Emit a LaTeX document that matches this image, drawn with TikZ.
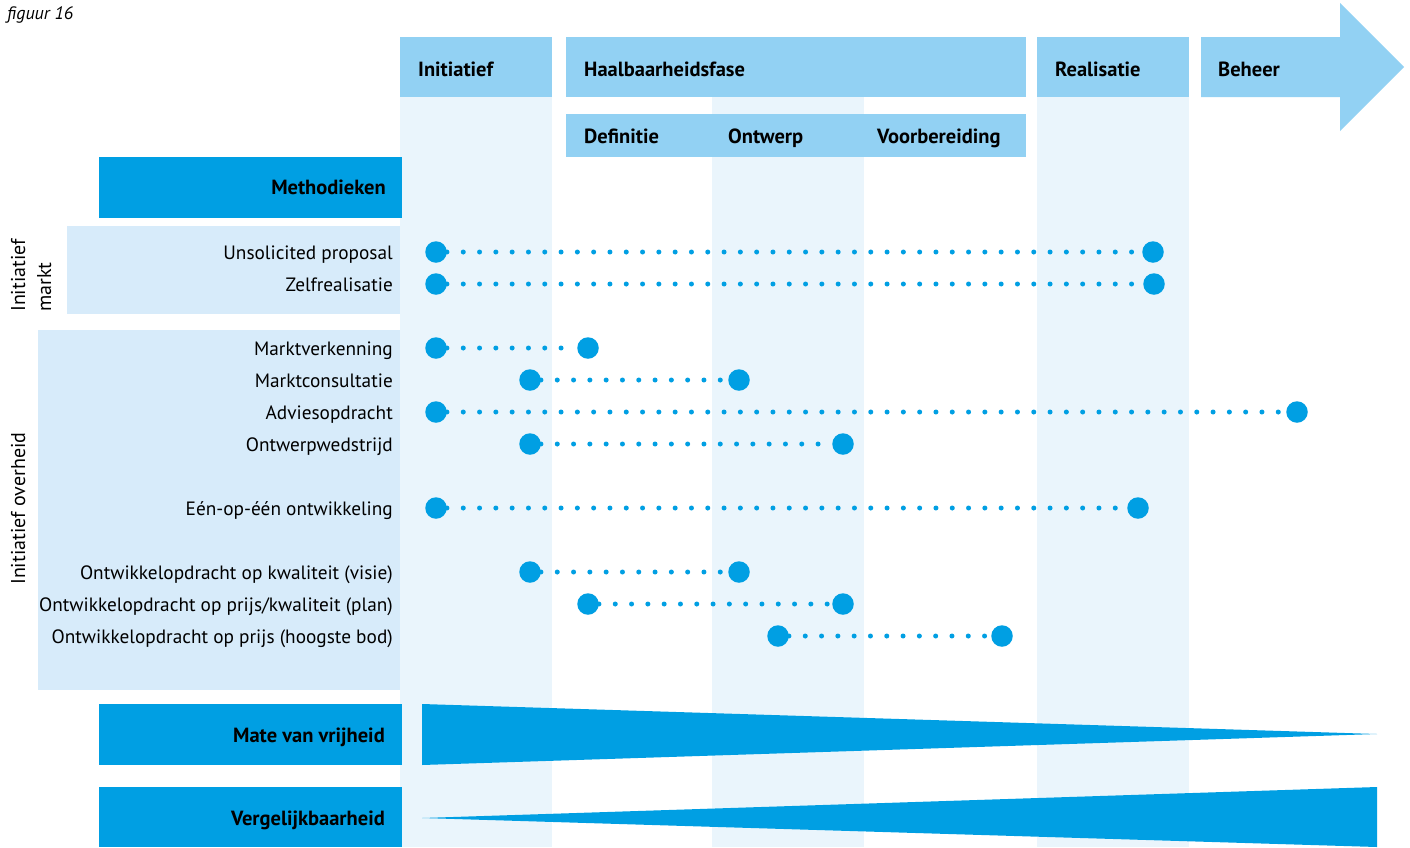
\documentclass[tikz,border=0pt]{standalone}
\usepackage{fontspec}
\setmainfont{PT Sans}
\definecolor{dblue}{HTML}{009FE3}
\definecolor{hblue}{HTML}{92D1F3}
\definecolor{colbg}{HTML}{EAF5FC}
\definecolor{bandbg}{HTML}{D7EBFA}
\tikzset{
  hdrbox/.style={fill=hblue, inner sep=0pt, anchor=north west, minimum height=60pt},
  hdrtxt/.style={anchor=base west, inner sep=0pt, font=\bfseries\fontsize{20.5}{24}\selectfont},
  darkbox/.style={fill=dblue, inner sep=0pt, anchor=north west, minimum height=61pt, minimum width=303pt},
  darktxt/.style={anchor=base east, inner sep=0pt, font=\bfseries\fontsize{20.5}{24}\selectfont},
  lbl/.style={anchor=base east, inner sep=0pt, font=\fontsize{19.3}{24}\selectfont},
  rlbl/.style={anchor=base west, rotate=90, inner sep=0pt, font=\fontsize{20}{24}\selectfont},
  bigdot/.style={circle, fill=dblue, minimum size=21.5pt, inner sep=0pt},
  dotline/.style={draw=dblue, line width=5pt, line cap=round, dash pattern=on 0pt off 16.3pt},
}
\begin{document}
\begin{tikzpicture}[x=1pt,y=-1pt]
\useasboundingbox (0,0) rectangle (1410,847);
\fill[white] (0,0) rectangle (1410,847);
% light columns
\fill[colbg] (400,97) rectangle (552,847);
\fill[colbg] (712,97) rectangle (864,847);
\fill[colbg] (1037,97) rectangle (1189,847);
% bands
\fill[bandbg] (67,226) rectangle (400,314);
\fill[bandbg] (38,330) rectangle (400,690);
% figure label
\node[anchor=base west, inner sep=0pt, font=\itshape\fontsize{18}{20}\selectfont] (fig) at (7,19) {figuur 16};
% headers
\node[hdrbox, minimum width=152pt] (hinit) at (400,37) {};
\node[hdrbox, minimum width=460pt] (hhaal) at (566,37) {};
\node[hdrbox, minimum width=152pt] (hreal) at (1037,37) {};
\fill[hblue] (1201,37) -- (1340,37) -- (1340,3) -- (1404,67) -- (1340,131) -- (1340,97) -- (1201,97) -- cycle;
\node[hdrtxt] (tinit) at (418,76) {Initiatief};
\node[hdrtxt] (thaal) at (584,76) {Haalbaarheidsfase};
\node[hdrtxt] (treal) at (1055,76) {Realisatie};
\node[hdrtxt] (tbeh) at (1218,76) {Beheer};
% sub headers
\node[fill=hblue, inner sep=0pt, anchor=north west, minimum width=460pt, minimum height=43pt] (hsub) at (566,114) {};
\node[hdrtxt] (sdef) at (584,143) {Definitie};
\node[hdrtxt] (sontw) at (728,143) {Ontwerp};
\node[hdrtxt] (svoor) at (877,143) {Voorbereiding};
% dark boxes
\node[darkbox] (meth) at (99,157) {};
\node[darkbox] (mate) at (99,704) {};
\node[darkbox, minimum height=60pt] (verg) at (99,787) {};
\node[darktxt] (tmeth) at (386,194) {Methodieken};
\node[darktxt] (tmate) at (385,742) {Mate van vrijheid};
\node[darktxt] (tverg) at (385,825) {Vergelijkbaarheid};
% wedges
\fill[dblue] (422,704) -- (1377,734) -- (422,765) -- cycle;
\fill[dblue] (422,818) -- (1377,787) -- (1377,847) -- cycle;
% rotated labels
\node[rlbl] (rm1) at (25,312) {Initiatief};
\node[rlbl] (rm2) at (51,312) {markt};
\node[rlbl] (ro1) at (25,585) {Initiatief overheid};
% row labels
\node[lbl] (l1) at (393,259) {Unsolicited proposal};
\node[lbl] (l2) at (393,291) {Zelfrealisatie};
\node[lbl] (l3) at (393,355) {Marktverkenning};
\node[lbl] (l4) at (393,387) {Marktconsultatie};
\node[lbl] (l5) at (393,419) {Adviesopdracht};
\node[lbl] (l6) at (393,451) {Ontwerpwedstrijd};
\node[lbl] (l7) at (393,515) {Eén-op-één ontwikkeling};
\node[lbl] (l8) at (393,579) {Ontwikkelopdracht op kwaliteit (visie)};
\node[lbl] (l9) at (393,611) {Ontwikkelopdracht op prijs/kwaliteit (plan)};
\node[lbl] (l10) at (393,643) {Ontwikkelopdracht op prijs (hoogste bod)};
% dots
\foreach \n/\y/\xa/\xb in {1/252/436/1153, 2/284/436/1154, 3/348/436/588, 4/380/530/739,
  5/412/436/1297, 6/444/530/843, 7/508/436/1138, 8/572/530/739, 9/604/588/843, 10/636/778/1002}{
  \node[bigdot] (s\n) at (\xa,\y) {};
  \node[bigdot] (e\n) at (\xb,\y) {};
  \draw[dotline] (s\n) -- (e\n);
}
\end{tikzpicture}
\end{document}
